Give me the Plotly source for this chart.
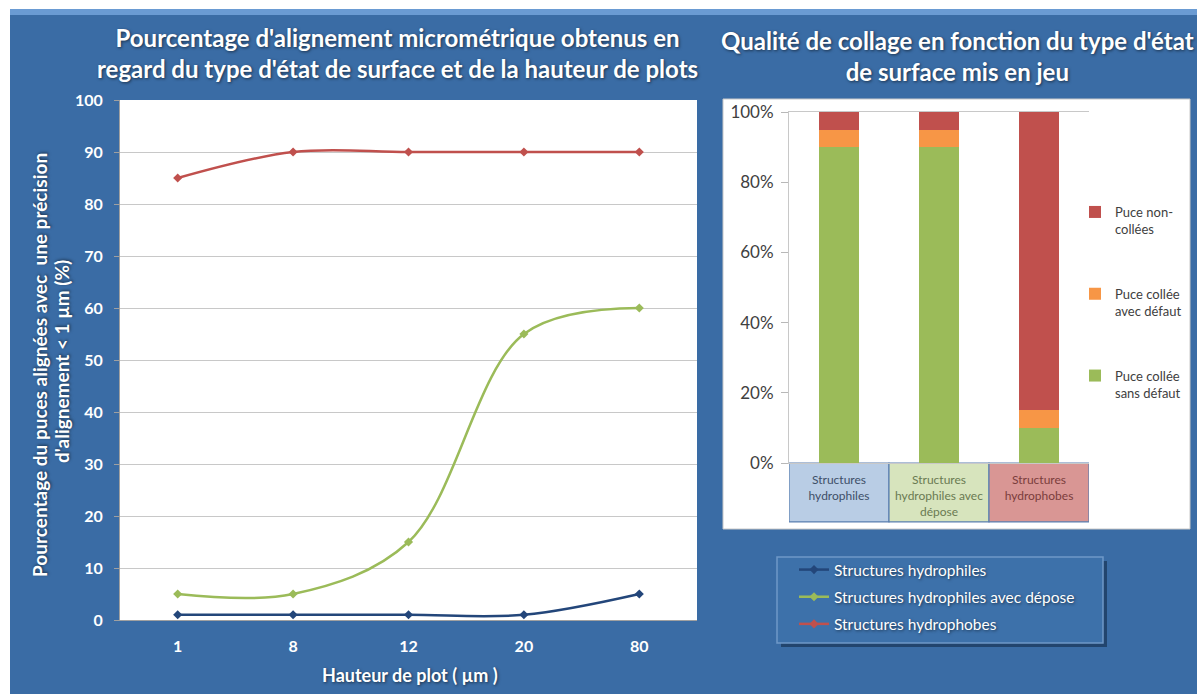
import plotly.graph_objects as go

# ---------------- data ----------------
heights = ["1", "8", "12", "20", "80"]
hydrophiles = [1, 1, 1, 1, 5]
hydrophiles_depose = [5, 5, 15, 55, 60]
hydrophobes = [85, 90, 90, 90, 90]

bar_categories = ["Structures<br>hydrophiles", "Structures<br>hydrophiles avec<br>dépose", "Structures<br>hydrophobes"]
bar_label_colors = ["#3e4f68", "#6a7a52", "#7b3d3c"]
sans_defaut = [90, 90, 10]
avec_defaut = [5, 5, 5]
non_collees = [5, 5, 85]

BLUE_BG = "#3a6ca5"
W, H = 1197, 694
FONT = "Lato, Open Sans, sans-serif"


def px_x(x):
    return x / W


def px_y(y):
    return 1 - y / H


fig = go.Figure()

# ---- left chart lines ----
line_series = [
    ("Structures hydrophiles", hydrophiles, "#23467a", "l1"),
    ("Structures hydrophiles avec dépose", hydrophiles_depose, "#9bbb59", "l2"),
    ("Structures hydrophobes", hydrophobes, "#c0504d", "l3"),
]
for name, vals, col, grp in line_series:
    fig.add_trace(go.Scatter(
        x=heights, y=vals, name=name, mode="lines+markers",
        line=dict(color=col, width=2.5, shape="spline", smoothing=1.0),
        marker=dict(symbol="diamond", size=7, color=col),
        xaxis="x", yaxis="y", legend="legend", legendgroup=grp,
    ))

# ---- right chart stacked bars ----
bar_series = [
    ("Puce collée<br>sans défaut", sans_defaut, "#9bbb59", 3),
    ("Puce collée<br>avec défaut", avec_defaut, "#f79646", 2),
    ("Puce non-<br>collées", non_collees, "#c0504d", 1),
]
for name, vals, col, rank in bar_series:
    fig.add_trace(go.Bar(
        x=bar_categories, y=vals, name=name, marker=dict(color=col, line=dict(width=0)),
        width=0.4, xaxis="x2", yaxis="y2", legend="legend2", legendgroup="b%d" % rank,
        legendrank=rank,
    ))

shapes = []
# white margins top/left
shapes.append(dict(type="rect", xref="paper", yref="paper", x0=0, x1=1, y0=px_y(9), y1=1,
                   fillcolor="white", line=dict(width=0), layer="below"))
shapes.append(dict(type="rect", xref="paper", yref="paper", x0=0, x1=px_x(10), y0=0, y1=1,
                   fillcolor="white", line=dict(width=0), layer="below"))
# lighter top edge
shapes.append(dict(type="rect", xref="paper", yref="paper", x0=px_x(10), x1=1, y0=px_y(15), y1=px_y(9),
                   fillcolor="#6a9bd3", line=dict(width=0), layer="below"))
# right white panel
shapes.append(dict(type="rect", xref="paper", yref="paper", x0=px_x(723), x1=px_x(1190), y0=px_y(529), y1=px_y(99),
                   fillcolor="white", line=dict(color="#c8c8c8", width=1), layer="below"))
# category boxes
box_fill = ["#b9cde5", "#d7e4bd", "#d99694"]
for i, _ in enumerate(bar_categories):
    shapes.append(dict(type="rect", xref="x2", yref="y2 domain", x0=i - 0.5, x1=i + 0.5,
                       y0=-0.168, y1=0, fillcolor=box_fill[i], line=dict(color="#5a7fb0", width=1.2),
                       layer="below"))
# bottom legend box with shadow
shapes.append(dict(type="rect", xref="paper", yref="paper", x0=px_x(781), x1=px_x(1107), y0=px_y(647), y1=px_y(561),
                   fillcolor="#22456e", line=dict(width=0), layer="below"))
shapes.append(dict(type="rect", xref="paper", yref="paper", x0=px_x(777), x1=px_x(1103), y0=px_y(643), y1=px_y(557),
                   fillcolor="#3d71aa", line=dict(color="#6f98c8", width=1.5), layer="below"))

shadow = "1px 1px 3px rgba(0,0,0,0.55)"
title_font = dict(family=FONT, size=24, color="white", weight="bold", shadow=shadow)
ytitle_font = dict(family=FONT, size=19, color="white", weight="bold", shadow=shadow)
annotations = [
    dict(text="Pourcentage d'alignement micrométrique obtenus en<br>regard du type d'état de surface et de la hauteur de plots",
         xref="paper", yref="paper", x=px_x(397), y=px_y(53), showarrow=False, font=title_font,
         xanchor="center", yanchor="middle"),
    dict(text="Qualité de collage en fonction du type d'état<br>de surface mis en jeu",
         xref="paper", yref="paper", x=px_x(957), y=px_y(56), showarrow=False, font=title_font,
         xanchor="center", yanchor="middle"),
    dict(text="Pourcentage du puces alignées avec  une précision",
         xref="paper", yref="paper", x=px_x(39), y=px_y(365), showarrow=False, textangle=-90,
         font=ytitle_font, xanchor="center", yanchor="middle"),
    dict(text="d'alignement < 1 µm (%)",
         xref="paper", yref="paper", x=px_x(61), y=px_y(362), showarrow=False, textangle=-90,
         font=ytitle_font, xanchor="center", yanchor="middle"),
    dict(text="Hauteur de plot ( µm )",
         xref="paper", yref="paper", x=px_x(410), y=px_y(675), showarrow=False,
         font=dict(family=FONT, size=18, color="white", weight="bold", shadow=shadow),
         xanchor="center", yanchor="middle"),
]

bar_ticktext = ["<span style='color:%s'>%s</span>" % (c, t) for t, c in zip(bar_categories, bar_label_colors)]

fig.update_layout(
    width=W, height=H,
    autosize=False,
    margin=dict(l=0, r=0, t=0, b=0, pad=0, autoexpand=False),
    paper_bgcolor=BLUE_BG,
    plot_bgcolor="white",
    barmode="stack",
    shapes=shapes,
    annotations=annotations,
    xaxis=dict(domain=[px_x(120), px_x(697)], type="category", range=[-0.5, 4.5],
               showgrid=False, showline=True, linecolor="#a0a0a0", ticks="",
               tickfont=dict(family=FONT, size=16, color="white", weight="bold"),
               ticklabelstandoff=12, anchor="y", automargin=False),
    yaxis=dict(domain=[px_y(620), px_y(100)], range=[0, 100], dtick=10,
               showgrid=True, gridcolor="#c8c8c8", gridwidth=1,
               showline=True, linecolor="#a0a0a0", ticks="outside", ticklen=5, tickcolor="#a0a0a0",
               tickfont=dict(family=FONT, size=16, color="white", weight="bold"),
               ticklabelstandoff=8, zeroline=False, anchor="x", automargin=False),
    xaxis2=dict(domain=[px_x(789), px_x(1089)], type="category", range=[-0.5, 2.5],
                tickvals=bar_categories, ticktext=bar_ticktext,
                showgrid=False, showline=True, mirror=True, linecolor="#c8c8c8", ticks="",
                tickfont=dict(family=FONT, size=12, color="#4a4a4a"),
                ticklabelstandoff=6, anchor="y2", automargin=False),
    yaxis2=dict(domain=[px_y(463), px_y(112)], range=[0, 100], dtick=20, ticksuffix="%",
                showgrid=False, showline=True, linecolor="#c8c8c8", ticks="outside", ticklen=7,
                tickcolor="#b8b8b8",
                tickfont=dict(family=FONT, size=17, color="#404040"),
                ticklabelstandoff=4, zeroline=False, anchor="x2", automargin=False),
    legend=dict(x=px_x(794), y=px_y(553), xanchor="left", yanchor="top",
                bgcolor="rgba(0,0,0,0)", borderwidth=0,
                font=dict(family=FONT, size=15.5, color="white", shadow=shadow),
                traceorder="grouped", tracegroupgap=4, itemwidth=30),
    legend2=dict(x=px_x(1075), y=px_y(197), xanchor="left", yanchor="top",
                 bgcolor="rgba(0,0,0,0)", borderwidth=0, traceorder="grouped",
                 tracegroupgap=45, itemwidth=30, valign="top",
                 font=dict(family=FONT, size=13, color="#404040")),
    showlegend=True,
)

fig.write_html("out.html", config={"displayModeBar": False},
               post_script="document.body.style.margin='0';document.body.style.overflow='hidden';")
